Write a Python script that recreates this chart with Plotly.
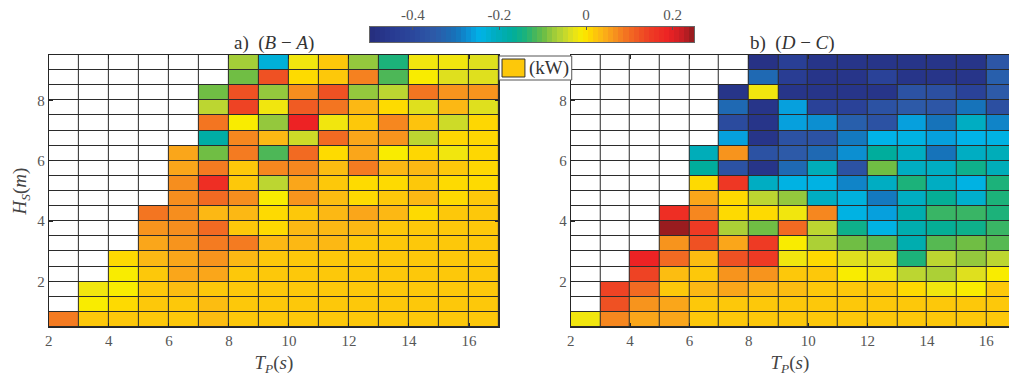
import numpy as np
import plotly.graph_objects as go

# ---------------- data ----------------
N = None
tp = [2.5, 3.5, 4.5, 5.5, 6.5, 7.5, 8.5, 9.5, 10.5, 11.5, 12.5, 13.5, 14.5, 15.5, 16.5]
hs = [9.25, 8.75, 8.25, 7.75, 7.25, 6.75, 6.25, 5.75, 5.25, 4.75,
      4.25, 3.75, 3.25, 2.75, 2.25, 1.75, 1.25, 0.75]

# a) (B - A), rows from Hs=9.25 (top) to Hs=0.75 (bottom)
diff_ba = [
    [N, N, N, N, N, N, -0.07, -0.23, -0.02, 0.02, -0.08, -0.14, -0.02, -0.02, -0.035],
    [N, N, N, N, N, N, -0.095, 0.125, 0.005, 0.02, 0.08, -0.115, -0.01, -0.035, -0.035],
    [N, N, N, N, N, -0.095, 0.125, -0.08, 0.07, 0.125, -0.08, -0.055, 0.09, 0.065, 0.065],
    [N, N, N, N, N, -0.055, 0.14, -0.02, 0.115, 0.09, 0.035, 0.005, -0.035, 0.035, -0.035],
    [N, N, N, N, N, 0.09, -0.01, -0.08, 0.19, -0.02, 0.02, 0.075, 0.025, -0.045, 0.008],
    [N, N, N, N, N, -0.18, 0.075, 0.035, -0.045, 0.1, 0.05, 0.065, -0.055, 0.008, 0.008],
    [N, N, N, N, 0.05, -0.095, 0.085, -0.115, 0.1, 0.005, 0.05, -0.01, 0.008, -0.02, 0.008],
    [N, N, N, N, 0.05, 0.085, 0.02, 0.075, 0.075, 0.03, 0.085, 0.035, 0.035, 0.02, 0.008],
    [N, N, N, N, 0.07, 0.17, 0.02, -0.055, 0.05, 0.02, 0.005, 0.006, 0.02, 0.006, 0.006],
    [N, N, N, N, 0.07, 0.1, 0.07, -0.01, 0.065, 0.03, 0.006, 0.02, 0.035, 0.006, 0.02],
    [N, N, N, 0.09, 0.07, 0.035, 0.035, 0.006, 0.02, 0.035, 0.05, 0.035, 0.006, 0.02, 0.02],
    [N, N, N, 0.065, 0.07, 0.1, 0.02, 0.006, 0.035, 0.035, 0.035, 0.02, 0.02, 0.02, 0.02],
    [N, N, N, 0.05, 0.065, 0.085, 0.085, 0.035, 0.035, 0.035, 0.02, 0.02, 0.02, 0.02, 0.02],
    [N, N, 0.006, 0.035, 0.05, 0.065, 0.035, 0.02, 0.02, 0.02, 0.02, 0.02, 0.02, 0.02, 0.02],
    [N, N, -0.01, 0.02, 0.05, 0.05, 0.02, 0.02, 0.02, 0.02, 0.02, 0.02, 0.02, 0.02, 0.02],
    [N, -0.02, -0.01, 0.02, 0.03, 0.02, 0.02, 0.02, 0.02, 0.02, 0.02, 0.02, 0.02, 0.02, 0.02],
    [N, -0.01, 0.006, 0.02, 0.02, 0.03, 0.02, 0.02, 0.02, 0.02, 0.02, 0.02, 0.02, 0.02, 0.02],
    [0.085, 0.02, 0.02, 0.02, 0.02, 0.03, 0.02, 0.02, 0.02, 0.02, 0.02, 0.02, 0.02, 0.02, 0.02],
]

# b) (D - C)
diff_dc = [
    [N, N, N, N, N, N, -0.48, -0.43, -0.47, -0.47, -0.47, -0.47, -0.47, -0.47, -0.36],
    [N, N, N, N, N, N, -0.32, -0.44, -0.47, -0.47, -0.42, -0.47, -0.47, -0.47, -0.34],
    [N, N, N, N, N, -0.47, -0.02, -0.47, -0.47, -0.47, -0.47, -0.37, -0.38, -0.42, -0.35],
    [N, N, N, N, N, -0.32, -0.47, -0.26, -0.42, -0.42, -0.37, -0.35, -0.36, -0.30, -0.38],
    [N, N, N, N, N, -0.39, -0.47, -0.26, -0.275, -0.34, -0.37, -0.26, -0.30, -0.21, -0.285],
    [N, N, N, N, N, -0.26, -0.47, -0.37, -0.37, -0.295, -0.245, -0.24, -0.26, -0.245, -0.24],
    [N, N, N, N, -0.2, 0.065, -0.37, -0.35, -0.32, -0.275, -0.17, -0.21, -0.30, -0.21, -0.2],
    [N, N, N, N, -0.17, -0.37, -0.47, -0.32, -0.2, -0.37, -0.095, -0.21, -0.21, -0.155, -0.2],
    [N, N, N, N, 0.006, 0.155, -0.21, -0.24, -0.24, -0.285, -0.21, -0.14, -0.21, -0.24, -0.14],
    [N, N, N, N, 0.05, 0.006, -0.055, -0.08, -0.21, -0.235, -0.295, -0.21, -0.165, -0.22, -0.14],
    [N, N, N, 0.17, 0.075, 0.006, 0.006, -0.02, 0.075, -0.24, -0.26, -0.19, -0.125, -0.125, -0.14],
    [N, N, N, 0.245, 0.15, -0.065, -0.095, 0.1, -0.055, -0.155, -0.24, -0.19, -0.165, -0.155, -0.125],
    [N, N, N, 0.065, 0.125, 0.05, 0.15, -0.01, -0.065, -0.095, -0.11, -0.19, -0.11, -0.095, -0.11],
    [N, N, 0.19, 0.1, 0.03, 0.125, 0.15, -0.02, 0.006, -0.035, -0.035, -0.14, -0.055, -0.08, -0.055],
    [N, N, 0.14, 0.03, 0.02, 0.065, 0.065, 0.02, 0.02, -0.01, -0.02, -0.055, -0.065, -0.035, -0.01],
    [N, 0.14, 0.1, 0.02, 0.035, 0.05, 0.035, 0.03, 0.02, 0.02, 0.02, 0.006, -0.02, -0.01, 0.02],
    [N, 0.125, 0.065, 0.05, 0.02, 0.02, 0.02, 0.02, 0.02, 0.02, 0.02, 0.02, 0.02, 0.02, 0.02],
    [-0.02, 0.075, 0.05, 0.05, 0.02, 0.02, 0.02, 0.02, 0.02, 0.02, 0.02, 0.02, 0.02, 0.02, 0.02],
]

x_ticks = [2, 4, 6, 8, 10, 12, 14, 16]
y_ticks = [2, 4, 6, 8]
cbar_ticks = [-0.4, -0.2, 0, 0.2]
cbar_ticktext = ["-0.4", "-0.2", "0", "0.2"]
legend_label = "(kW)"
legend_colour = "#fdc80a"
CMIN, CMAX = -0.5, 0.25

# jet-like colormap as printed in the reference (value -> colour)
cmap_stops = [
    (-0.50, "#262d7d"), (-0.45, "#283a91"), (-0.40, "#2b479c"), (-0.35, "#2d5aa8"),
    (-0.30, "#1673ba"), (-0.27, "#0a94d6"), (-0.245, "#00b3e8"), (-0.21, "#00adc2"),
    (-0.17, "#00ad9c"), (-0.14, "#1cb27a"), (-0.115, "#4db757"), (-0.095, "#70be44"),
    (-0.08, "#94c83d"), (-0.055, "#bcd631"), (-0.035, "#dfe01e"), (-0.02, "#f1e60e"),
    (-0.01, "#f9ec00"), (0.005, "#fedb00"), (0.02, "#fdc80a"), (0.035, "#fcb814"),
    (0.05, "#faa61a"), (0.065, "#f7941d"), (0.085, "#f47b21"), (0.10, "#f26a22"),
    (0.125, "#ef5123"), (0.15, "#ee3a24"), (0.19, "#ed2224"), (0.225, "#c41e24"),
    (0.25, "#8e1b1e"),
]
colorscale = [[(v - CMIN) / (CMAX - CMIN), c] for v, c in cmap_stops]

# ---------------- geometry (pixels) ----------------
W, H = 1009, 379
def px_x(a, b):
    return [a / W, b / W]
def px_y(top, bottom):
    return [1 - bottom / H, 1 - top / H]

SERIF = "Liberation Serif"
TICKCOL = "#555555"
LINECOL = "#262626"

fig = go.Figure()

def add_panel(z, xa, ya):
    blank = [[1 if v is None else None for v in row] for row in z]
    fig.add_trace(go.Heatmap(
        x=tp, y=hs, z=blank, colorscale=[[0, "white"], [1, "white"]], showscale=False,
        xgap=1, ygap=1, hoverinfo="skip", xaxis=xa, yaxis=ya))
    fig.add_trace(go.Heatmap(
        x=tp, y=hs, z=z, coloraxis="coloraxis", xgap=1, ygap=1,
        xaxis=xa, yaxis=ya))

add_panel(diff_ba, "x", "y")
add_panel(diff_dc, "x2", "y2")

# colour bar drawn as a strip on its own axis (labels on top as in the reference)
n_levels = 64
dlev = (CMAX - CMIN) / n_levels
cbar_levels = CMIN + dlev * (np.arange(n_levels) + 0.5)
fig.add_trace(go.Heatmap(
    z=[cbar_levels], x=cbar_levels, y=[0], coloraxis="coloraxis",
    hoverinfo="skip", xaxis="x3", yaxis="y3"))

tickfont = dict(family=SERIF, size=15, color=TICKCOL)
common_x = dict(range=[2, 17], tickvals=x_ticks, ticks="inside", ticklen=4,
                tickcolor=LINECOL, showline=True, linecolor=LINECOL, linewidth=1,
                mirror="ticks", showgrid=False, zeroline=False, tickfont=tickfont)
common_y = dict(range=[0.5, 9.5], tickvals=y_ticks, ticks="inside", ticklen=4,
                tickcolor=LINECOL, showline=True, linecolor=LINECOL, linewidth=1,
                showgrid=False, zeroline=False, tickfont=tickfont)

xtitle = dict(text="<i>T</i><sub><i>P</i></sub>(<i>s</i>)",
              font=dict(family=SERIF, size=19, color="#444444"), standoff=7)

# legend box "(kW)" (drawn as in the reference: a small boxed patch + label)
shapes = [
    dict(type="rect", xref="paper", yref="paper",
         x0=497 / W, x1=570 / W, y0=1 - 80 / H, y1=1 - 56 / H,
         fillcolor="white", line=dict(color="#555555", width=1), layer="above"),
    dict(type="rect", xref="paper", yref="paper",
         x0=500 / W, x1=523 / W, y0=1 - 77 / H, y1=1 - 59 / H,
         fillcolor=legend_colour, line=dict(color="#333333", width=1), layer="above"),
]

fig.update_layout(
    width=W, height=H, autosize=False,
    margin=dict(l=0, r=0, t=0, b=0, pad=0),
    paper_bgcolor="white", plot_bgcolor="#2b2b2b",
    coloraxis=dict(colorscale=colorscale, cmin=CMIN, cmax=CMAX, showscale=False),
    xaxis=dict(domain=px_x(45, 497), anchor="y", title=xtitle, **common_x),
    yaxis=dict(domain=px_y(55, 327), anchor="x", mirror="ticks",
               title=dict(text="<i>H</i><sub><i>S</i></sub>(<i>m</i>)",
                          font=dict(family=SERIF, size=19, color="#444444"), standoff=5),
               **common_y),
    xaxis2=dict(domain=px_x(569, W), anchor="y2", title=xtitle,
                **{**common_x, "range": [2, 2 + (W - 569) / 29.8]}),
    yaxis2=dict(domain=px_y(55, 327), anchor="x2", mirror=False, **common_y),
    xaxis3=dict(domain=px_x(367, 693), anchor="y3", side="top", range=[CMIN, CMAX],
                tickvals=cbar_ticks, ticktext=cbar_ticktext, ticks="inside", ticklen=3,
                tickcolor="#555555", showline=True, linecolor="#666666", mirror=True,
                showgrid=False, zeroline=False, tickfont=tickfont),
    yaxis3=dict(domain=px_y(27, 42), anchor="x3", range=[-0.5, 0.5], showticklabels=False,
                ticks="", showline=True, linecolor="#666666", mirror=True,
                showgrid=False, zeroline=False),
    showlegend=False,
    shapes=shapes,
    annotations=[
        dict(text="a)\u00a0\u00a0(<i>B</i> − <i>A</i>)", x=271 / W, y=1 - 43 / H,
             xref="paper", yref="paper", showarrow=False, xanchor="center",
             yanchor="middle", font=dict(family=SERIF, size=19, color="#333333")),
        dict(text="b)\u00a0\u00a0(<i>D</i> − <i>C</i>)", x=792 / W, y=1 - 43 / H,
             xref="paper", yref="paper", showarrow=False, xanchor="center",
             yanchor="middle", font=dict(family=SERIF, size=19, color="#333333")),
        dict(text=legend_label, x=525 / W, y=1 - 68 / H, xref="paper", yref="paper",
             showarrow=False, xanchor="left", yanchor="middle",
             font=dict(family=SERIF, size=19, color="#333333")),
    ],
)

fig.write_html("out.html")
